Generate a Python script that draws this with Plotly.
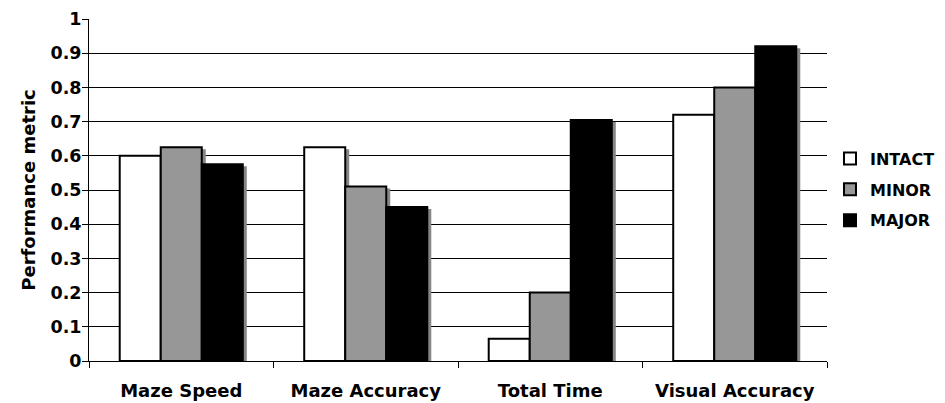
import plotly.graph_objects as go

categories = ["Maze Speed", "Maze Accuracy", "Total Time", "Visual Accuracy"]
series_names = ["INTACT", "MINOR", "MAJOR"]
intact = [0.60, 0.625, 0.065, 0.72]
minor = [0.625, 0.51, 0.20, 0.80]
major = [0.575, 0.45, 0.705, 0.92]
values = [intact, minor, major]
colors = ["#ffffff", "#979797", "#000000"]
shadow_color = "#868686"

PAGE_OFFSET = 8  # default body margin of the html page
FIG_W, FIG_H = 945 - PAGE_OFFSET, 403 - PAGE_OFFSET
W, H = 741, 342  # plot-area size in px
L, T = 89 - PAGE_OFFSET, 19 - PAGE_OFFSET
SH = 3  # shadow offset in px

fig = go.Figure()

# base subplot carrying the visible axes and gridlines (no marks)
fig.add_trace(go.Scatter(x=categories, y=[None] * len(categories), mode="markers",
                         showlegend=False, hoverinfo="skip", xaxis="x", yaxis="y"))

# shadow bars (shifted subplot)
for name, vals in zip(series_names, values):
    fig.add_trace(go.Bar(
        x=categories, y=vals, name=name, showlegend=False, hoverinfo="skip",
        marker=dict(color=shadow_color, line=dict(color=shadow_color, width=2)),
        xaxis="x2", yaxis="y2",
    ))

# main bars
for name, vals, c in zip(series_names, values, colors):
    fig.add_trace(go.Bar(
        x=categories, y=vals, name=name, legendgroup=name,
        marker=dict(color=c, line=dict(color="black", width=2)),
        xaxis="x3", yaxis="y3",
    ))

main_xdom = [0, (W - SH) / W]
cat_kw = dict(type="category", categoryorder="array", categoryarray=categories,
              range=[-0.5, 3.5])

fig.update_layout(
    width=FIG_W, height=FIG_H, autosize=False,
    margin=dict(l=L, r=FIG_W - L - W, t=T, b=FIG_H - T - H, autoexpand=False),
    paper_bgcolor="white", plot_bgcolor="rgba(0,0,0,0)",
    font=dict(family="DejaVu Sans", size=16, color="black", weight="bold"),
    barmode="group", bargap=0.333, bargroupgap=0,
    xaxis=dict(domain=main_xdom, anchor="y", showline=True, linecolor="black", linewidth=1,
               ticks="outside", tickson="boundaries", ticklen=6, tickcolor="black",
               tickfont=dict(size=18), showgrid=False, ticklabelstandoff=13,
               automargin=False, **cat_kw),
    yaxis=dict(domain=[0, 1], anchor="x", range=[0, 1], dtick=0.1, tick0=0,
               showline=True, linecolor="black", linewidth=1,
               ticks="outside", ticklen=6, tickcolor="black",
               showgrid=True, gridcolor="black", gridwidth=1, zeroline=False,
               tickfont=dict(size=17.5), ticklabelposition="outside",
               ticklabelstandoff=-3, automargin=False,
               title=dict(text="Performance metric", font=dict(size=18), standoff=10)),
    xaxis2=dict(domain=[SH / W, 1], anchor="y2", visible=False, **cat_kw),
    yaxis2=dict(domain=[0, 1 - SH / H], anchor="x2", range=[SH / H, 1], visible=False),
    xaxis3=dict(domain=main_xdom, anchor="y3", visible=False, **cat_kw),
    yaxis3=dict(domain=[0, 1], anchor="x3", range=[0, 1], visible=False),
    legend=dict(x=1.0, xanchor="left", y=0.501, yanchor="middle",
                font=dict(size=16), bgcolor="rgba(0,0,0,0)", tracegroupgap=7,
                traceorder="grouped"),
    showlegend=True,
)

fig.write_html("out.html")
